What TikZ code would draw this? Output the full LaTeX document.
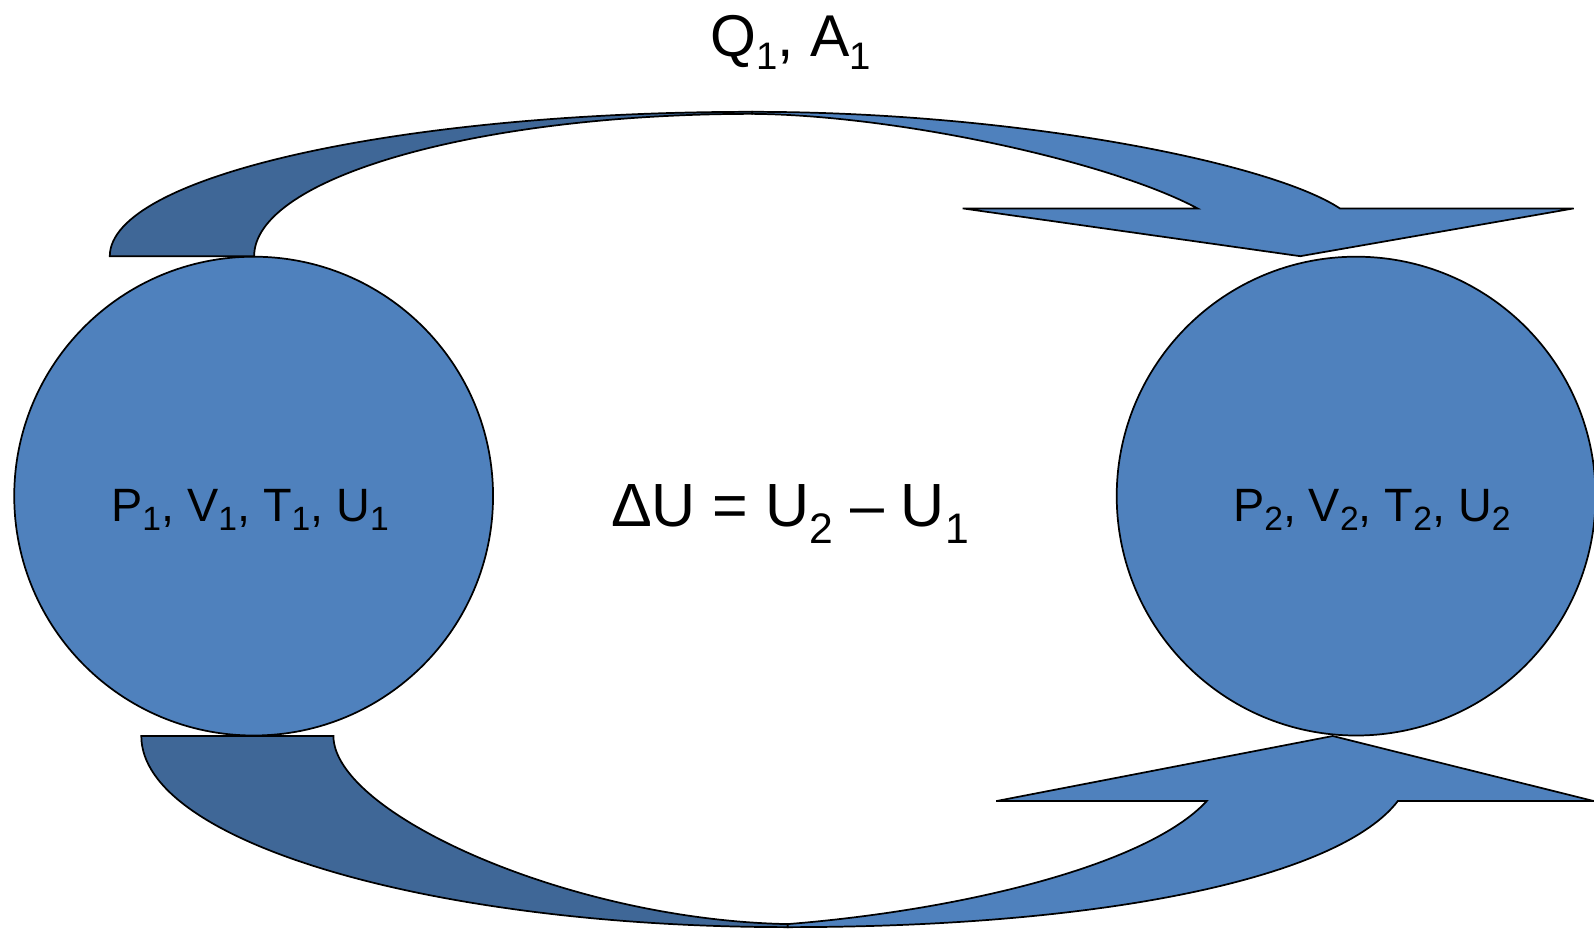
\documentclass[tikz,border=0pt]{standalone}
\usepackage{fontspec}
\setmainfont{Liberation Sans}
\definecolor{arrowlight}{HTML}{4F81BD}
\definecolor{arrowdark}{HTML}{3F6797}
\newcommand\lsub[1]{\raisebox{-0.21em}{\scalebox{0.72}{#1}}}
\newcommand\hsub[1]{\raisebox{-0.28em}{\scalebox{0.7}{#1}}}
\newcommand\qsub[1]{\raisebox{-0.22em}{\scalebox{0.65}{#1}}}
\begin{document}
\begin{tikzpicture}[x=1pt,y=-1pt,
  state/.style={circle, draw=black, line width=1.7pt, fill=arrowlight, minimum size=471pt, inner sep=0pt},
  bandlight/.style={fill=arrowlight, draw=black, line width=1.7pt, line join=miter},
  banddark/.style={fill=arrowdark, draw=black, line width=1.7pt, line join=miter},
  lbl/.style={anchor=base, inner sep=0pt, font=\fontsize{46}{50}\selectfont},
  big/.style={anchor=base, inner sep=0pt, font=\fontsize{60}{64}\selectfont},
  qbig/.style={anchor=base, inner sep=0pt, font=\fontsize{58}{62}\selectfont}]
\useasboundingbox (0,0) rectangle (1568,914);

% states
\node[state] (L) at (249.5,488) {};
\node[state] (R) at (1334,488) {};

% top curved arrow: dark back part
\path[banddark] (108,252) .. controls (108,173.6) and (391,110) .. (740,110)
  -- (740,112) .. controls (469,112) and (250,175) .. (250,252) -- cycle;
% top curved arrow: light front part with head
\path[bandlight] (740,110) .. controls (1000,110) and (1250,160) .. (1318,205)
  -- (1548,205) -- (1279,252) -- (947,205) -- (1178,205)
  .. controls (1090,158) and (880,113) .. (740,112) -- cycle;

% bottom curved arrow: dark back part
\path[banddark] (139,724) -- (328,724) .. controls (328,800) and (560,905) .. (775,909)
  -- (775,912) .. controls (424,912) and (139,828) .. (139,724) -- cycle;
% bottom curved arrow: light front part with head
\path[bandlight] (775,912) .. controls (1100,912) and (1320,860) .. (1375,788)
  -- (1568,788) -- (1311,724) -- (980,788) -- (1187,788)
  .. controls (1130,850) and (950,895) .. (775,909) -- cycle;

% texts
\node[qbig] (q) at (778,56) {Q\qsub{1}, A\qsub{1}};
\node[lbl] (t1) at (246,512.5) {P\lsub{1}, V\lsub{1}, T\lsub{1}, U\lsub{1}};
\node[lbl] (t2) at (1349.5,512.5) {P\lsub{2}, V\lsub{2}, T\lsub{2}, U\lsub{2}};
\node[big] (du) at (777,518) {ΔU = U\hsub{2} – U\hsub{1}};
\end{tikzpicture}
\end{document}
